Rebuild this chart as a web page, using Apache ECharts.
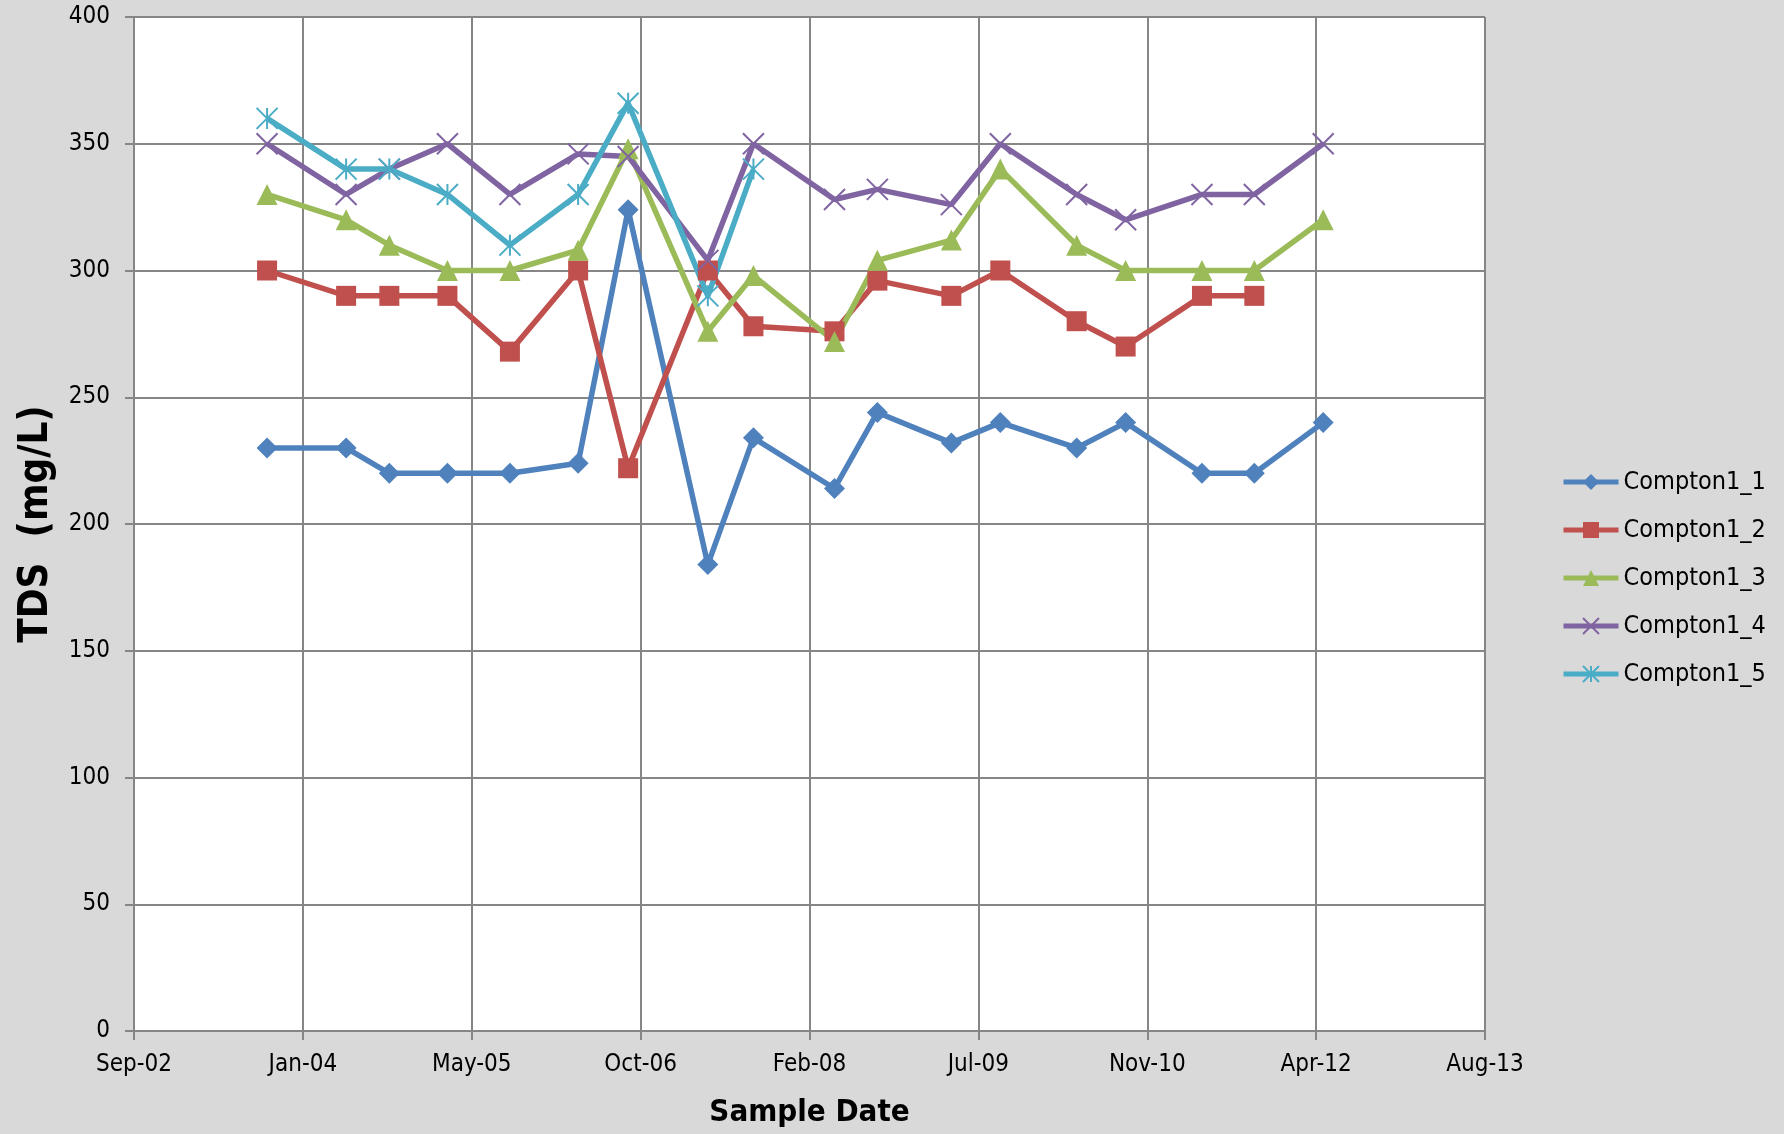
<!DOCTYPE html>
<html>
<head>
<meta charset="utf-8">
<script src="https://cdn.jsdelivr.net/npm/echarts@6/dist/echarts.min.js"></script>
<style>
html,body{margin:0;padding:0;background:#d9d9d9;}
#chart{width:1784px;height:1134px;}
</style>
</head>
<body>
<div id="chart"></div>
<script>
// Sample dates (shared by all wells)
const sampleDates = ['2003-09-30','2004-05-21','2004-09-26','2005-03-17','2005-09-18','2006-04-08','2006-09-03','2007-04-27','2007-09-09','2008-05-06','2008-09-10','2009-04-17','2009-09-09','2010-04-23','2010-09-15','2011-04-29','2011-10-01','2012-04-22'];
const seriesNames = ['Compton1_1','Compton1_2','Compton1_3','Compton1_4','Compton1_5'];
const compton1_1 = [230,230,220,220,220,224,324,184,234,214,244,232,240,230,240,220,220,240];
const compton1_2 = [300,290,290,290,268,300,222,300,278,276,296,290,300,280,270,290,290,null];
const compton1_3 = [330,320,310,300,300,308,348,276,298,272,304,312,340,310,300,300,300,320];
const compton1_4 = [350,330,340,350,330,346,345,304,350,328,332,326,350,330,320,330,330,350];
const compton1_5 = [360,340,340,330,310,330,366,290,340,null,null,null,null,null,null,null,null,null];
// Y axis ticks
const yMin = 0, yMax = 400, yStep = 50;
// X axis ticks (Excel date serials): Sep-02 ... Aug-13 every 500 days
const xMin = 37500, xMax = 41500, xStep = 500;

const MONTHS = ['Jan','Feb','Mar','Apr','May','Jun','Jul','Aug','Sep','Oct','Nov','Dec'];
function toSerial(s){const p=s.split('-').map(Number);return Date.UTC(p[0],p[1]-1,p[2])/86400000+25569;}
function fromSerial(v){const d=new Date((v-25569)*86400000);return MONTHS[d.getUTCMonth()]+'-'+String(d.getUTCFullYear()%100).padStart(2,'0');}
function pairs(vals){const out=[];vals.forEach((v,i)=>{if(v!==null)out.push([toSerial(sampleDates[i]),v]);});return out;}

const FONT = "'Liberation Sans Narrow','DejaVu Sans Condensed',sans-serif";
const colors = ['#4F81BD','#C0504D','#9BBB59','#8064A2','#4BACC6'];
const allVals = [compton1_1,compton1_2,compton1_3,compton1_4,compton1_5];
const symbols = ['diamond','rect','triangle','path://M0,0L10,10M10,0L0,10','path://M5,0L5,10M0,0L10,10M10,0L0,10'];
const sizes = [21,20,21,21,21];

const series = allVals.map((vals,i)=>{
  const stroke = i>=3;
  return {
    name: seriesNames[i],
    type: 'line',
    data: pairs(vals),
    symbol: symbols[i],
    symbolSize: sizes[i],
    showAllSymbol: true,
    lineStyle: {color: colors[i], width: 5.5},
    itemStyle: stroke ? {color: 'rgba(0,0,0,0)', borderColor: colors[i], borderWidth: 2} : {color: colors[i], borderColor: colors[i], borderWidth: 0},
    emphasis: {disabled: true},
    animation: false
  };
});

const chart = echarts.init(document.getElementById('chart'));
chart.setOption({
  backgroundColor: '#d9d9d9',
  animation: false,
  grid: {left: 134, right: 299, top: 17, bottom: 103, show: true, backgroundColor: '#ffffff', borderWidth: 0, containLabel: false, outerBoundsMode: 'none'},
  legend: {
    orient: 'vertical', left: 1556, top: 462,
    itemWidth: 55, itemHeight: 20, itemGap: 18,
    lineStyle: {width: 5},
    textStyle: {fontFamily: FONT, fontSize: 25, color: '#000', lineHeight: 30},
    data: seriesNames
  },
  xAxis: {
    type: 'value', min: xMin, max: xMax, interval: xStep,
    name: 'Sample Date', nameLocation: 'middle', nameGap: 66,
    nameTextStyle: {fontFamily: FONT, fontSize: 31, fontWeight: 'bold', color: '#000'},
    axisLine: {show: true, lineStyle: {color: '#868686', width: 2}},
    axisTick: {show: true, inside: false, length: 9, lineStyle: {color: '#868686', width: 2}},
    axisLabel: {fontFamily: FONT, fontSize: 24, color: '#000', margin: 22, formatter: fromSerial},
    splitLine: {show: true, lineStyle: {color: '#868686', width: 2}}
  },
  yAxis: {
    type: 'value', min: yMin, max: yMax, interval: yStep,
    name: 'TDS  (mg/L)', nameLocation: 'middle', nameGap: 77, nameRotate: 90,
    nameTextStyle: {fontFamily: FONT, fontSize: 40, fontWeight: 'bold', color: '#000'},
    axisLine: {show: true, lineStyle: {color: '#868686', width: 2}},
    axisTick: {show: true, inside: false, length: 9, lineStyle: {color: '#868686', width: 2}},
    axisLabel: {fontFamily: FONT, fontSize: 24, color: '#000', margin: 24},
    splitLine: {show: true, lineStyle: {color: '#868686', width: 2}}
  },
  series: series
});
</script>
</body>
</html>
